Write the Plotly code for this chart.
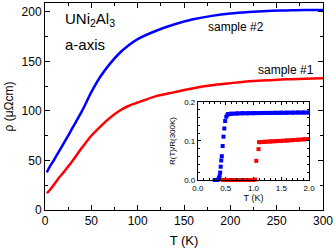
import plotly.graph_objects as go

# Main panel data: temperature (K) and resistivity (micro-ohm cm)
T_main = [2, 5, 10, 15, 20, 25, 30, 40, 50, 60, 70, 80, 90, 100, 120, 140, 160, 180, 200, 220, 240, 260, 280, 300]
rho_s2 = [38, 43.5, 51, 59, 67, 75, 83.5, 100, 119, 135, 147.5, 158, 166, 172.5, 181, 187.5, 192.5, 196, 198.5, 200, 201, 201.5, 202, 202]
rho_s1 = [17, 20, 26, 32.5, 38, 44, 50, 63, 75, 84.5, 93, 100, 105, 108.5, 115, 119, 123, 126, 128, 130, 131, 132, 132.5, 133]

# Inset data: low temperature normalized resistance
inset_blue_T_tr = [0.30, 0.33, 0.35, 0.37, 0.38, 0.39, 0.40, 0.41, 0.42, 0.43, 0.445, 0.46, 0.475, 0.49, 0.51, 0.53, 0.55]
inset_blue_R_tr = [0.0, 0.0, 0.0, 0.002, 0.005, 0.010, 0.019, 0.034, 0.050, 0.061, 0.087, 0.111, 0.132, 0.151, 0.162, 0.167, 0.169]
inset_blue_T_pl = [0.55, 0.6, 0.7, 0.8, 0.9, 1.0, 1.1, 1.2, 1.3, 1.4, 1.5, 1.6, 1.7, 1.8, 1.9, 2.0]
inset_blue_R_pl = [0.169, 0.170, 0.1705, 0.171, 0.171, 0.1712, 0.1715, 0.172, 0.172, 0.1722, 0.1725, 0.1725, 0.1727, 0.173, 0.173, 0.173]

inset_red_T_tr = [0.45, 0.5, 0.55, 0.6, 0.65, 0.7, 0.75, 0.8, 0.85, 0.9, 0.95, 1.0, 1.03, 1.05, 1.09]
inset_red_R_tr = [0.0, 0.0, 0.0, 0.0, 0.0, 0.0, 0.0, 0.0, 0.0, 0.0, 0.0, 0.0, 0.001, 0.049, 0.079]
inset_red_T_pl = [1.1, 1.2, 1.3, 1.4, 1.5, 1.6, 1.7, 1.8, 1.9, 2.0]
inset_red_R_pl = [0.097, 0.098, 0.0988, 0.0995, 0.100, 0.101, 0.102, 0.103, 0.104, 0.105]

BLUE = "#0000ff"
RED = "#ff0000"
FONT = "Arial, Liberation Sans, sans-serif"

fig = go.Figure()
fig.add_trace(go.Scatter(x=T_main, y=rho_s2, mode="lines", line=dict(color=BLUE, width=2.5, shape="spline", smoothing=0.8), showlegend=False))
fig.add_trace(go.Scatter(x=T_main, y=rho_s1, mode="lines", line=dict(color=RED, width=2.5, shape="spline", smoothing=0.8), showlegend=False))

mk = dict(symbol="square", size=4)
fig.add_trace(go.Scatter(x=inset_blue_T_tr, y=inset_blue_R_tr, mode="markers", marker=dict(color=BLUE, **mk), xaxis="x2", yaxis="y2", showlegend=False, cliponaxis=False))
fig.add_trace(go.Scatter(x=inset_blue_T_pl, y=inset_blue_R_pl, mode="lines+markers", line=dict(color=BLUE, width=4), marker=dict(color=BLUE, **mk), xaxis="x2", yaxis="y2", showlegend=False))
fig.add_trace(go.Scatter(x=inset_red_T_tr, y=inset_red_R_tr, mode="markers", marker=dict(color=RED, **mk), xaxis="x2", yaxis="y2", showlegend=False, cliponaxis=False))
fig.add_trace(go.Scatter(x=inset_red_T_pl, y=inset_red_R_pl, mode="lines+markers", line=dict(color=RED, width=4), marker=dict(color=RED, **mk), xaxis="x2", yaxis="y2", showlegend=False))

fig.update_layout(
    width=336, height=250,
    margin=dict(l=45, r=13, t=3, b=40),
    paper_bgcolor="white", plot_bgcolor="white",
    font=dict(family=FONT, color="black", size=12),
    xaxis=dict(
        range=[0, 300], domain=[0, 1], tickvals=[0, 50, 100, 150, 200, 250, 300],
        ticks="inside", ticklen=5, tickwidth=1, tickcolor="black",
        minor=dict(ticks="inside", dtick=25, ticklen=3, tickcolor="black"),
        showline=True, linecolor="black", linewidth=1, mirror="ticks",
        showgrid=False, zeroline=False,
        tickfont=dict(size=12),
        title=dict(text="T (K)", font=dict(size=13), standoff=8),
        automargin=False,
    ),
    yaxis=dict(
        range=[0, 209], domain=[0, 1], tickvals=[0, 50, 100, 150, 200],
        ticks="inside", ticklen=5, tickwidth=1, tickcolor="black",
        minor=dict(ticks="inside", dtick=25, ticklen=3, tickcolor="black"),
        showline=True, linecolor="black", linewidth=1, mirror="ticks",
        showgrid=False, zeroline=False,
        tickfont=dict(size=12),
        title=dict(text="ρ (μΩcm)", font=dict(size=12), standoff=5),
        automargin=False,
    ),
    xaxis2=dict(
        range=[0, 2], domain=[0.55, 0.95], anchor="y2",
        tickvals=[0, 0.5, 1.0, 1.5, 2.0], ticktext=["0.0", "0.5", "1.0", "1.5", "2.0"],
        ticks="inside", ticklen=3, tickwidth=1, tickcolor="black",
        minor=dict(ticks="inside", dtick=0.1, ticklen=2, tickcolor="black"),
        showline=True, linecolor="black", linewidth=1, mirror="ticks",
        showgrid=False, zeroline=False,
        tickfont=dict(size=8),
        title=dict(text="T (K)", font=dict(size=9), standoff=1),
        automargin=False,
    ),
    yaxis2=dict(
        range=[0, 0.2], domain=[0.145, 0.522], anchor="x2",
        tickvals=[0, 0.1, 0.2], ticktext=["0.0", "0.1", "0.2"],
        ticks="inside", ticklen=3, tickwidth=1, tickcolor="black",
        minor=dict(ticks="inside", dtick=0.02, ticklen=2, tickcolor="black"),
        showline=True, linecolor="black", linewidth=1, mirror="ticks",
        showgrid=False, zeroline=False,
        tickfont=dict(size=8),
        title=dict(text="R(T)/R(300K)", font=dict(size=8), standoff=7),
        automargin=False,
    ),
    annotations=[
        dict(x=19, y=192, xref="x", yref="y", text="UNi<sub>2</sub>Al<sub>3</sub>", showarrow=False,
             xanchor="left", yanchor="middle", font=dict(size=15)),
        dict(x=19, y=167, xref="x", yref="y", text="a-axis", showarrow=False,
             xanchor="left", yanchor="middle", font=dict(size=15)),
        dict(x=206, y=185, xref="x", yref="y", text="sample #2", showarrow=False,
             xanchor="center", yanchor="middle", font=dict(size=12)),
        dict(x=260, y=141, xref="x", yref="y", text="sample #1", showarrow=False,
             xanchor="center", yanchor="middle", font=dict(size=12)),
    ],
)

fig.write_html("out.html", config={"displayModeBar": False},
               post_script="document.body.style.margin='0';document.body.style.padding='0';")
